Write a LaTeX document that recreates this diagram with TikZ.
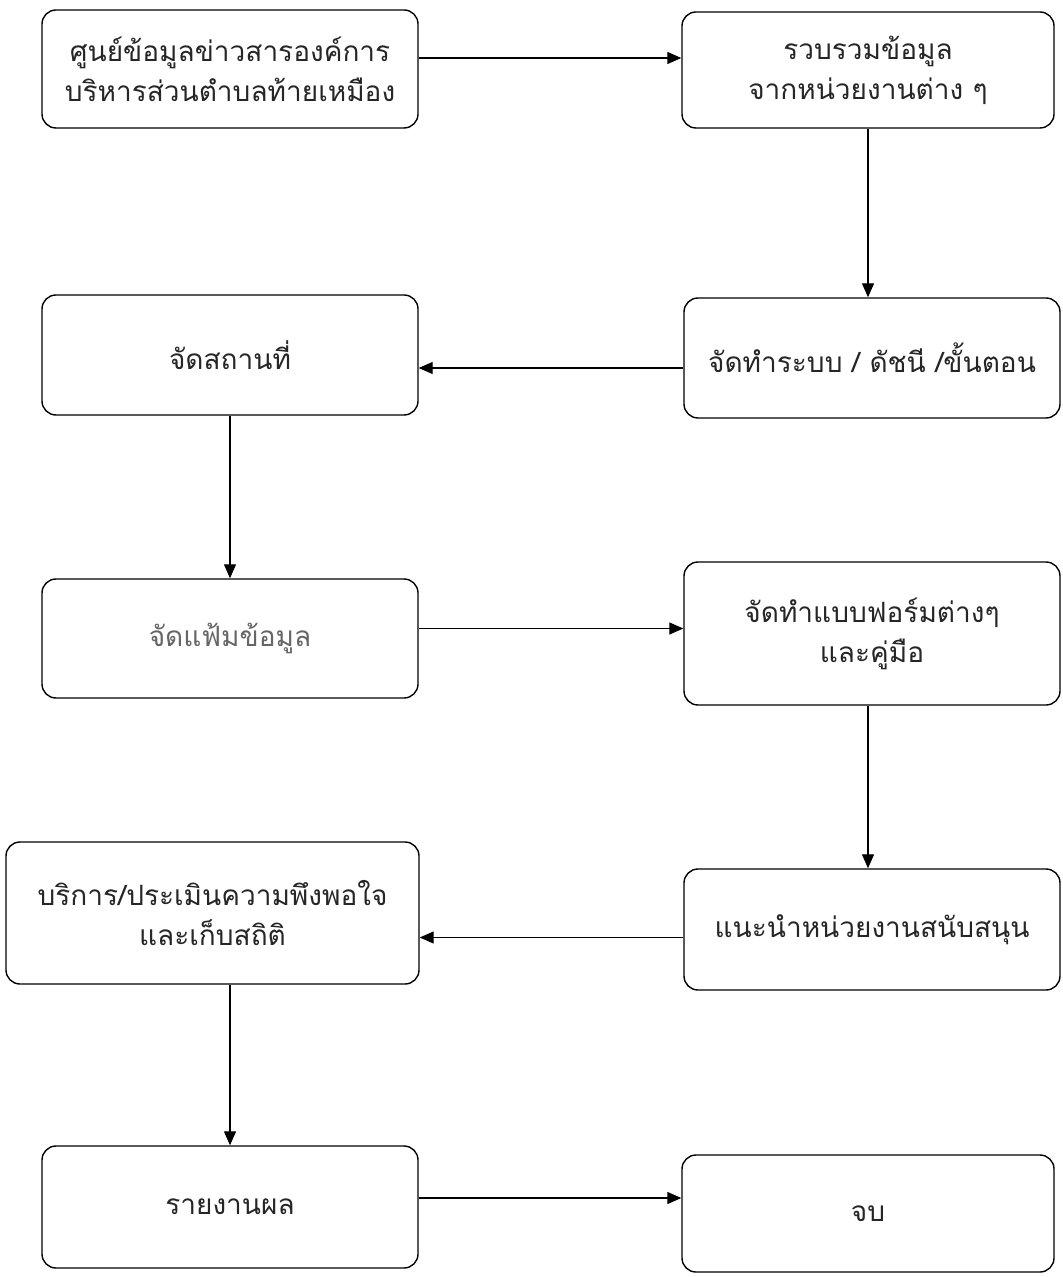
\documentclass[tikz,border=0pt]{standalone}
\usepackage{fontspec}
\newfontfamily\thaifont[Script=Thai]{Loma}
\usetikzlibrary{arrows.meta}

\begin{document}
\begin{tikzpicture}[x=0.5pt,y=-0.5pt,
        every node/.style={font=\thaifont\fontsize{14}{20}\selectfont}]
            \tikzstyle{b}=[rectangle,draw,rounded corners=7pt,align=center,inner sep=0pt,line width=0.7pt,text=black!85]
            \tikzstyle{a}=[-{Triangle[length=7pt,width=6pt]},line width=0.6pt]

            \fill[white] (0,0) rectangle (1062,1277);
            \useasboundingbox (0,0) rectangle (1062,1277);

            \node [b,minimum width=188pt,minimum height=59pt] (info) at (230,69) {ศูนย์ข้อมูลข่าวสารองค์การ\\บริหารส่วนตำบลท้ายเหมือง};
            \node [b,minimum width=186pt,minimum height=58pt] (collect) at (868,70) {รวบรวมข้อมูล\\จากหน่วยงานต่าง ๆ};
            \node [b,minimum width=188pt,minimum height=60pt] (place) at (230,355) {จัดสถานที่};
            \node [b,minimum width=188pt,minimum height=60pt] (system) at (872,358) {จัดทำระบบ / ดัชนี /ขั้นตอน};
            \node [b,minimum width=188pt,minimum height=59.5pt,text=black!60] (file) at (230,638.5) {จัดแฟ้มข้อมูล};
            \node [b,minimum width=188pt,minimum height=71.5pt] (form) at (872,633.5) {จัดทำแบบฟอร์มต่างๆ\\และคู่มือ};
            \node [b,minimum width=206.5pt,minimum height=71pt] (service) at (212.5,913) {บริการ/ประเมินความพึงพอใจ\\และเก็บสถิติ};
            \node [b,minimum width=188pt,minimum height=60.5pt] (advise) at (872,929.5) {แนะนำหน่วยงานสนับสนุน};
            \node [b,minimum width=188pt,minimum height=61pt] (report) at (230,1207) {รายงานผล};
            \node [b,minimum width=186pt,minimum height=58.5pt] (finish) at (868,1213.5) {จบ};

            \draw[a] ([yshift=5.5pt]info.east) -- ([yshift=5.5pt]info.east -| collect.west);
            \draw[a] (collect.south) -- (collect.south |- system.north);
            \draw[a] ([yshift=-5pt]system.west) -- ([yshift=-5pt]system.west -| place.east);
            \draw[a] (place.south) -- (place.south |- file.north);
            \draw[a] ([yshift=5pt]file.east) -- ([yshift=5pt]file.east -| form.west);
            \draw[a] ([xshift=-2pt]form.south) -- ([xshift=-2pt]form.south |- advise.north);
            \draw[a] ([yshift=-4pt]advise.west) -- ([yshift=-4pt]advise.west -| service.east);
            \draw[a] (report.north |- service.south) -- (report.north);
            \draw[a] ([yshift=4.5pt]report.east) -- ([yshift=4.5pt]report.east -| finish.west);
        \end{tikzpicture}
\end{document}
